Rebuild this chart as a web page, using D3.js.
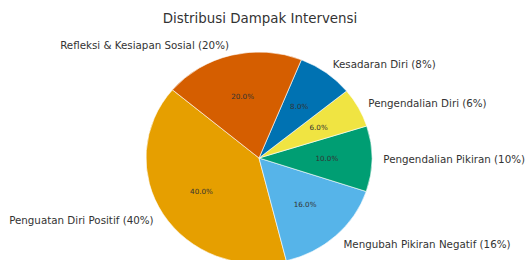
<!DOCTYPE html>
<html>
<head>
<meta charset="utf-8">
<script src="https://cdn.jsdelivr.net/npm/d3@7"></script>
<style>
  html, body { margin: 0; padding: 0; background: #fff; }
  svg { display: block; font-family: "DejaVu Sans", sans-serif; }
</style>
</head>
<body>
<svg id="chart" width="527" height="260"></svg>
<script>
const title = "Distribusi Dampak Intervensi";
const categories = [
  "Penguatan Diri Positif",
  "Mengubah Pikiran Negatif",
  "Pengendalian Pikiran",
  "Pengendalian Diri",
  "Kesadaran Diri",
  "Refleksi & Kesiapan Sosial"
];
const values = [40, 16, 10, 6, 8, 20];
const colors = ["#E69F00", "#56B4E9", "#009E73", "#F0E442", "#0072B2", "#D55E00"];

const W = 527, H = 260;
const cx = 259, cy = 158;
const rx = 113, ry = 106;
const startDeg = 140; // matplotlib-style start angle, counter-clockwise

const svg = d3.select("#chart");

svg.append("text")
  .attr("x", 260).attr("y", 18)
  .attr("text-anchor", "middle")
  .attr("dominant-baseline", "central")
  .attr("font-size", 13.4)
  .attr("fill", "#333")
  .text(title);

const data = categories.map((c, i) => ({ name: c, value: values[i], color: colors[i] }));
const total = d3.sum(values);

const a0 = (90 - startDeg) * Math.PI / 180;
const pie = d3.pie().sort(null).value(d => d.value)
  .startAngle(a0).endAngle(a0 - 2 * Math.PI);
const arcs = pie(data);

const arc = d3.arc().innerRadius(0).outerRadius(1);

const g = svg.append("g").attr("transform", `translate(${cx},${cy})`);
g.append("g").attr("transform", `scale(${rx},${ry})`)
  .selectAll("path").data(arcs).join("path")
  .attr("d", arc)
  .attr("fill", d => d.data.color)
  .attr("stroke", "#fff")
  .attr("stroke-width", 0.6)
  .attr("vector-effect", "non-scaling-stroke");

function pos(d, k) {
  const m = (d.startAngle + d.endAngle) / 2; // d3 angle, clockwise from 12 o'clock
  return [Math.sin(m) * rx * k, -Math.cos(m) * ry * k];
}

g.selectAll("text.pct").data(arcs).join("text")
  .attr("class", "pct")
  .attr("x", d => pos(d, 0.6)[0])
  .attr("y", d => pos(d, 0.6)[1])
  .attr("text-anchor", "middle")
  .attr("dominant-baseline", "central")
  .attr("font-size", 7.2)
  .attr("fill", "#333")
  .text(d => (d.data.value / total * 100).toFixed(1) + "%");

g.selectAll("text.lbl").data(arcs).join("text")
  .attr("class", "lbl")
  .attr("x", d => pos(d, 1.1)[0])
  .attr("y", d => pos(d, 1.1)[1])
  .attr("text-anchor", d => pos(d, 1.1)[0] < 0 ? "end" : "start")
  .attr("dominant-baseline", "central")
  .attr("font-size", 10.3)
  .attr("fill", "#333")
  .text(d => `${d.data.name} (${Math.round(d.data.value / total * 100)}%)`);
</script>
</body>
</html>
